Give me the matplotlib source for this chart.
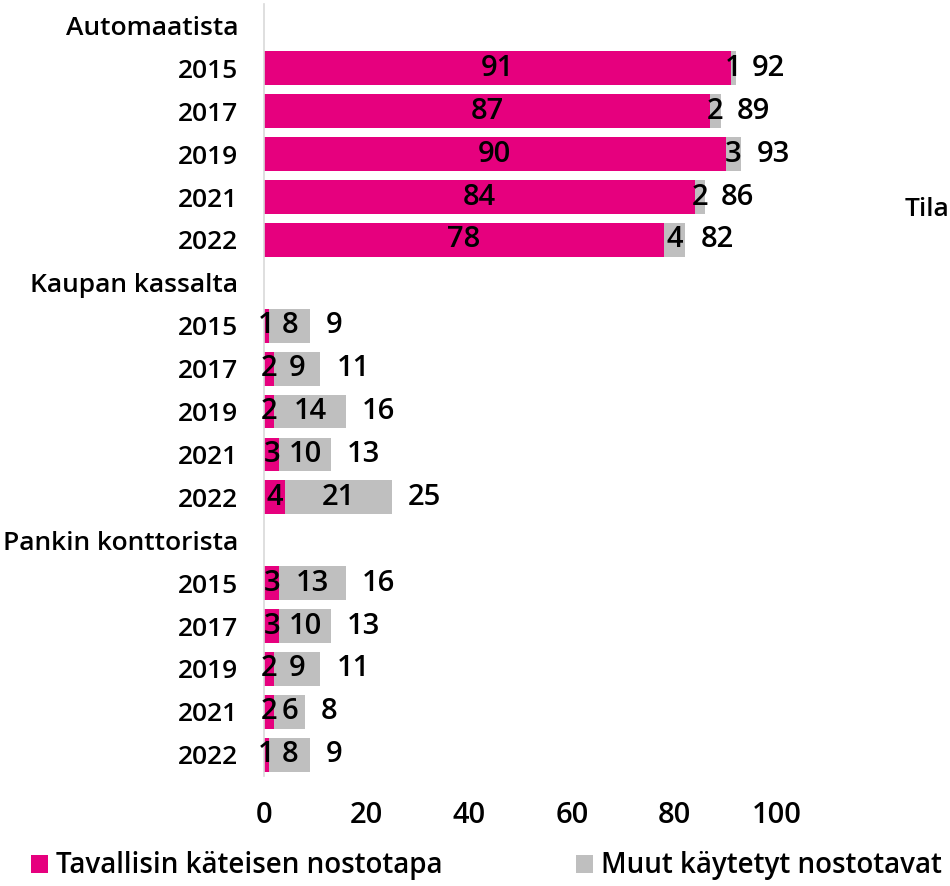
import matplotlib
matplotlib.use("Agg")
import matplotlib.pyplot as plt
import numpy as np

plt.rcParams['font.family'] = ['Open Sans', 'DejaVu Sans']
plt.rcParams['font.weight'] = 'semibold'

row_labels = ["Automaatista", "2015", "2017", "2019", "2021", "2022",
              "Kaupan kassalta", "2015", "2017", "2019", "2021", "2022",
              "Pankin konttorista", "2015", "2017", "2019", "2021", "2022"]
# None marks group header rows (no bars)
usual = [None, 91, 87, 90, 84, 78,
         None, 1, 2, 2, 3, 4,
         None, 3, 3, 2, 2, 1]
other = [None, 1, 2, 3, 2, 4,
         None, 8, 9, 14, 10, 21,
         None, 13, 10, 9, 6, 8]
totals = [None, 92, 89, 93, 86, 82,
          None, 9, 11, 16, 13, 25,
          None, 16, 13, 11, 8, 9]
series_names = ["Tavallisin käteisen nostotapa", "Muut käytetyt nostotavat"]
xticks = [0, 20, 40, 60, 80, 100]

PINK = "#E6007E"
GRAY = "#BFBFBF"
FS = 19
FSD = 21

W, H = 950, 886
fig = plt.figure(figsize=(W / 100, H / 100), dpi=100)
ax = fig.add_axes([264 / W, (H - 776.2) / H, (777 - 264) / W, (776.2 - 4) / H])

n = len(row_labels)
y = np.arange(n)
u = np.array([np.nan if v is None else v for v in usual], dtype=float)
o = np.array([np.nan if v is None else v for v in other], dtype=float)
t = np.array([np.nan if v is None else v for v in totals], dtype=float)

bh = 0.79
b1 = ax.barh(y, u, height=bh, color=PINK, label=series_names[0])
b2 = ax.barh(y, o, left=u, height=bh, color=GRAY, label=series_names[1])

for i in range(n):
    if np.isnan(u[i]):
        continue
    ax.text(u[i] / 2, y[i], f"{int(u[i])}", ha='center', va='center', fontsize=FSD, color='black')
    ax.text(u[i] + o[i] / 2, y[i], f"{int(o[i])}", ha='center', va='center', fontsize=FSD, color='black')
    ax.text(t[i] + 3.1, y[i], f"{int(t[i])}", ha='left', va='center', fontsize=FSD, color='black',
            clip_on=False)

ax.set_xlim(0, 100)
ax.set_ylim(n - 0.5, -0.5)
ax.set_yticks(y)
ax.set_yticklabels(row_labels, fontsize=FS)
ax.set_xticks(xticks)
ax.set_xticklabels([str(v) for v in xticks], fontsize=FSD)
ax.tick_params(axis='both', length=0)
ax.tick_params(axis='y', pad=18.5)
ax.tick_params(axis='x', pad=18)
for s in ['top', 'right', 'bottom']:
    ax.spines[s].set_visible(False)
ax.spines['left'].set_color('#D9D9D9')
ax.spines['left'].set_linewidth(1.2)

fig.text(905 / W, 1 - 210 / H, "Tila", fontsize=FS, ha='left', va='center')

leg = fig.legend(handles=[b1, b2], labels=series_names, loc='center left',
                 bbox_to_anchor=(20 / W, 1 - 866 / H), ncol=2, frameon=False,
                 fontsize=20, handlelength=0.6, handleheight=0.6, handletextpad=0.3,
                 columnspacing=4.8, borderaxespad=0)

fig.savefig("out.png", dpi=100)
